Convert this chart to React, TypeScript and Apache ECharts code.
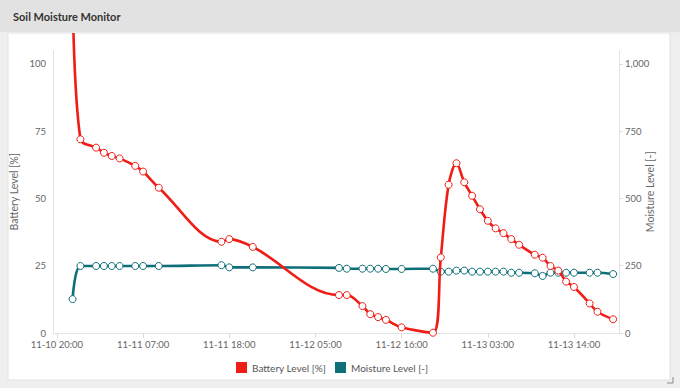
import React, { useEffect, useRef } from "react";
import * as echarts from "echarts";

const titleText = "Soil Moisture Monitor";
const batteryName = "Battery Level [%]";
const moistureName = "Moisture Level [-]";

const times = [
  "11-10 22:00", "11-10 23:00", "11-11 01:00", "11-11 02:00", "11-11 03:00", "11-11 04:00",
  "11-11 06:00", "11-11 07:00", "11-11 09:00", "11-11 17:00", "11-11 18:00", "11-11 21:00",
  "11-12 08:00", "11-12 09:00", "11-12 11:00", "11-12 12:00", "11-12 13:00", "11-12 14:00",
  "11-12 16:00", "11-12 20:00", "11-12 21:00", "11-12 22:00", "11-12 23:00", "11-13 00:00",
  "11-13 01:00", "11-13 02:00", "11-13 03:00", "11-13 04:00", "11-13 05:00", "11-13 06:00",
  "11-13 07:00", "11-13 09:00", "11-13 10:00", "11-13 11:00", "11-13 12:00", "11-13 13:00",
  "11-13 14:00", "11-13 16:00", "11-13 17:00", "11-13 19:00",
];

const batteryValues = [
  130, 72, 68.9, 67, 65.8, 64.9, 62.1, 60, 54, 33.9, 34.9, 32,
  14.1, 14.1, 10, 7, 5.9, 4.9, 2.1, 0.1, 28.1, 55.1, 63.1, 56,
  51, 46, 41.7, 38.9, 37.1, 34.9, 32.8, 29.1, 28, 24.9, 23.2, 19.1,
  17.1, 11, 7.9, 5.1,
];

const moistureValues = [
  126, 249, 249, 249, 249, 249, 249, 249, 249, 252, 244, 244,
  242, 239, 239, 239, 239, 238, 238, 239, 228, 228, 232, 232,
  228, 228, 228, 228, 228, 224, 224, 222, 212, 224, 224, 224,
  224, 224, 224, 219,
];

const xTickLabels = [
  "11-10 20:00", "11-11 07:00", "11-11 18:00", "11-12 05:00",
  "11-12 16:00", "11-13 03:00", "11-13 14:00",
];
const xRange = ["11-10 19:30", "11-13 19:45"];
const batteryTicks = [0, 25, 50, 75, 100];
const moistureTicks = [0, 250, 500, 750, 1000];

const YEAR = 2023;
function parseTime(s: string): number {
  const [md, hm] = s.split(" ");
  const [mo, d] = md.split("-").map(Number);
  const [h, mi] = hm.split(":").map(Number);
  return Date.UTC(YEAR, mo - 1, d, h, mi);
}
function pad(n: number) {
  return n < 10 ? "0" + n : "" + n;
}
function fmtTime(v: number): string {
  const dt = new Date(v);
  return `${pad(dt.getUTCMonth() + 1)}-${pad(dt.getUTCDate())} ${pad(dt.getUTCHours())}:${pad(dt.getUTCMinutes())}`;
}

const RED = "#f01c16";
const TEAL = "#0f6f79";
const FONT = "Lato, 'Open Sans', sans-serif";

export default function App() {
  const ref = useRef<HTMLDivElement>(null);

  useEffect(() => {
    if (!ref.current) return;
    const chart = echarts.init(ref.current, undefined, { renderer: "svg" });
    const ts = times.map(parseTime);
    const xTicks = xTickLabels.map(parseTime);

    chart.setOption({
      animation: false,
      backgroundColor: "#efefef",
      textStyle: { fontFamily: FONT },
      graphic: [
        {
          type: "rect",
          z: -10,
          silent: true,
          shape: { x: 8, y: 33, width: 662, height: 347 },
          style: { fill: "#ffffff", stroke: "#e2e2e2", lineWidth: 1 },
        },
        {
          type: "rect",
          z: 50,
          silent: true,
          shape: { x: 0, y: 0, width: 680, height: 32 },
          style: { fill: "#e2e2e2" },
        },
        {
          type: "rect",
          z: 50,
          silent: true,
          shape: { x: 0, y: 32, width: 680, height: 1 },
          style: { fill: "#ececec" },
        },
        {
          type: "text",
          z: 60,
          silent: true,
          x: 13,
          y: 16,
          style: {
            text: titleText,
            fill: "#333333",
            font: `bold 11px ${FONT}`,
            verticalAlign: "middle",
            align: "left",
          },
        },
        {
          type: "polyline",
          z: 60,
          silent: true,
          shape: { points: [[667, 383], [673, 383], [673, 377]] },
          style: { stroke: "#888", lineWidth: 1, fill: "none" },
        },
      ],
      grid: { left: 53, right: 61, top: 50.5, bottom: 55, containLabel: false },
      legend: {
        left: 236,
        top: 362,
        padding: 0,
        itemWidth: 11,
        itemHeight: 11,
        itemGap: 9,
        textStyle: { color: "#555", fontSize: 10, fontFamily: FONT },
        data: [
          { name: batteryName, icon: "rect", itemStyle: { color: RED, borderWidth: 0 } },
          { name: moistureName, icon: "rect", itemStyle: { color: TEAL, borderWidth: 0 } },
        ],
      },
      xAxis: {
        type: "value",
        min: parseTime(xRange[0]),
        max: parseTime(xRange[1]),
        splitLine: { show: false },
        axisLine: { lineStyle: { color: "#e3e3e3", width: 1 } },
        axisTick: {
          show: true,
          length: 5,
          customValues: xTicks,
          lineStyle: { color: "#dddddd" },
        },
        axisLabel: {
          customValues: xTicks,
          formatter: (v: number) => fmtTime(v),
          color: "#666",
          fontSize: 9.5,
          margin: 6,
          fontFamily: FONT,
        },
      },
      yAxis: [
        {
          type: "value",
          min: 0,
          max: 105,
          name: batteryName,
          nameLocation: "middle",
          nameGap: 34,
          nameMoveOverlap: false,
          nameTextStyle: { color: "#666", fontSize: 10.5, fontFamily: FONT },
          splitLine: { show: false },
          axisLine: { show: true, lineStyle: { color: "#e3e3e3" } },
          axisTick: { show: false },
          axisLabel: {
            customValues: batteryTicks,
            color: "#666",
            fontSize: 9.5,
            margin: 7,
            fontFamily: FONT,
          },
        },
        {
          type: "value",
          min: 0,
          max: 1050,
          position: "right",
          name: moistureName,
          nameLocation: "middle",
          nameGap: 25,
          nameRotate: 90,
          nameMoveOverlap: false,
          nameTextStyle: { color: "#666", fontSize: 10.5, fontFamily: FONT },
          splitLine: { show: false },
          axisLine: { show: true, lineStyle: { color: "#e3e3e3" } },
          axisTick: {
            show: true,
            length: 4,
            customValues: moistureTicks,
            lineStyle: { color: "#dddddd" },
          },
          axisLabel: {
            customValues: moistureTicks,
            formatter: (v: number) => v.toLocaleString("en-US"),
            color: "#666",
            fontSize: 9.5,
            margin: 6,
            fontFamily: FONT,
          },
        },
      ],
      series: [
        {
          name: batteryName,
          type: "line",
          yAxisIndex: 0,
          data: ts.map((t, i) => [t, batteryValues[i]]),
          smooth: 0.35,
          clip: false,
          symbol: "circle",
          symbolSize: 7,
          showAllSymbol: true,
          lineStyle: { color: RED, width: 2.6 },
          itemStyle: { color: "#ffffff", borderColor: RED, borderWidth: 1 },
          z: 3,
        },
        {
          name: moistureName,
          type: "line",
          yAxisIndex: 1,
          data: ts.map((t, i) => [t, moistureValues[i]]),
          smooth: 0.35,
          symbol: "circle",
          symbolSize: 7,
          showAllSymbol: true,
          lineStyle: { color: TEAL, width: 2.6 },
          itemStyle: { color: "#ffffff", borderColor: TEAL, borderWidth: 1 },
          z: 2,
        },
      ],
    });
    return () => chart.dispose();
  }, []);

  return (
    <div
      ref={ref}
      style={{ position: "fixed", left: 0, top: 0, width: 680, height: 388, overflow: "hidden" }}
    />
  );
}
